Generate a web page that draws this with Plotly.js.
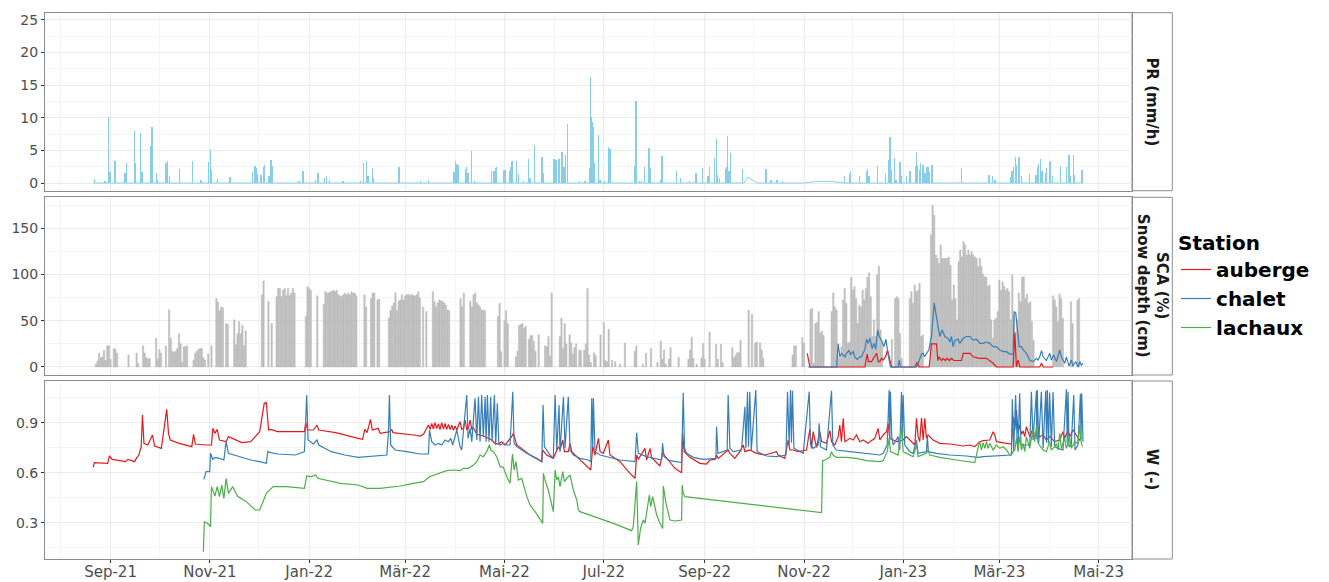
<!DOCTYPE html>
<html><head><meta charset="utf-8">
<script src="https://cdn.plot.ly/plotly-3.0.1.min.js"></script>
<style>html,body{margin:0;padding:0;background:#fff}#chart{width:1329px;height:582px}</style>
</head><body><div id="chart"></div>
<script>
// All time values: days since 2021-09-01 (UTC)
const prEvents = [[-10.0,0.6],[-3.4,0.3],[-1.2,10.1],[-0.4,1.7],[2.7,3.3],[8.8,1.6],[9.6,3.0],[14.6,7.9],[15.3,3.0],[18.2,7.6],[19.3,1.7],[24.6,5.6],[25.4,8.6],[28.1,1.5],[28.9,0.5],[34.0,3.1],[34.8,3.3],[36.0,1.0],[42.4,2.1],[50.2,3.4],[55.5,0.4],[60.0,3.2],[61.4,5.0],[62.0,2.0],[65.7,0.6],[73.3,0.9],[87.4,1.7],[88.7,2.6],[89.5,2.3],[90.3,1.4],[91.9,1.3],[92.7,1.3],[94.2,2.4],[94.5,2.8],[97.4,1.0],[98.5,3.5],[99.3,2.6],[115.7,0.3],[118.3,1.8],[126.1,0.5],[127.5,1.5],[131.6,0.7],[132.6,1.0],[134.7,0.5],[142.7,0.3],[153.7,0.3],[155.3,3.1],[157.4,3.3],[158.2,1.1],[160.7,2.3],[161.3,0.7],[177.2,2.4],[190.6,0.3],[195.1,0.5],[211.0,1.7],[211.8,3.3],[212.7,2.9],[213.5,2.8],[218.0,2.1],[218.8,2.4],[219.6,1.5],[221.6,4.9],[223.7,0.3],[234.2,1.9],[235.6,1.9],[236.4,2.3],[237.2,2.4],[241.7,2.0],[242.5,2.0],[245.0,1.8],[245.8,2.4],[246.6,3.3],[249.5,3.4],[250.7,1.4],[253.6,0.3],[256.6,3.6],[257.7,0.8],[260.6,5.8],[264.6,2.8],[265.0,4.0],[265.8,1.5],[272.4,3.7],[273.6,3.5],[275.5,3.7],[277.3,4.8],[278.6,2.4],[279.3,4.3],[280.6,9.1],[287.9,0.3],[291.4,0.3],[294.1,2.3],[294.9,16.2],[295.6,10.1],[296.2,9.4],[296.5,8.5],[297.2,3.0],[299.6,7.3],[300.7,0.5],[303.3,0.3],[306.0,5.5],[306.8,5.2],[321.9,2.6],[322.8,12.6],[324.8,0.3],[326.0,0.3],[328.1,2.5],[330.7,5.3],[331.5,2.3],[337.9,0.5],[338.7,4.1],[347.7,1.8],[350.2,0.8],[355.7,0.3],[359.6,1.5],[363.5,2.3],[367.0,1.0],[367.8,2.4],[370.8,3.8],[372.1,6.7],[372.9,1.3],[373.9,0.7],[378.0,2.1],[378.4,2.5],[379.1,7.2],[379.9,1.8],[380.9,4.6],[388.3,2.1],[402.6,2.1],[405.8,0.4],[409.5,0.5],[413.0,0.3],[450.9,1.0],[454.0,1.4],[454.6,1.8],[460.1,1.0],[464.2,1.8],[465.0,2.1],[466.0,1.0],[471.1,2.6],[476.2,1.4],[477.9,3.5],[478.5,5.4],[478.9,7.1],[479.5,2.0],[481.8,3.8],[482.6,0.5],[485.0,3.2],[485.6,1.0],[489.1,1.0],[491.2,1.8],[494.7,2.6],[495.1,4.8],[495.9,2.7],[496.9,2.0],[497.7,3.0],[499.1,2.8],[500.4,1.6],[501.2,2.5],[502.2,2.5],[503.1,1.7],[504.7,2.8],[522.9,2.3],[539.7,1.2],[541.8,1.0],[543.3,0.5],[552.8,0.9],[553.8,1.9],[554.8,2.4],[556.1,4.0],[556.7,2.7],[558.1,4.0],[559.6,1.0],[564.5,1.4],[568.5,1.2],[569.4,2.5],[570.2,2.9],[571.4,3.6],[572.2,1.8],[574.3,1.5],[575.1,2.3],[576.7,3.2],[577.5,3.4],[578.6,1.0],[583.5,2.6],[587.2,2.5],[588.8,4.3],[589.8,1.0],[591.5,4.3],[592.1,1.3],[596.8,2.0]];
const prBase = [[-10.6,0],[389.0,0],[391.5,0.9],[397.2,0],[425.8,0],[432.0,0.2],[438.0,0.26],[444.0,0.2],[450.3,0],[597.4,0]];

const snowRunStart = ['2021-08-23','2021-09-12','2021-09-17','2021-09-21','2021-09-29','2021-10-05','2021-10-22','2021-11-05','2021-11-16','2021-12-03','2021-12-12','2021-12-30','2022-01-06','2022-01-10','2022-02-04','2022-02-08','2022-02-19','2022-03-12','2022-03-18','2022-04-04','2022-04-10','2022-04-27','2022-05-08','2022-05-26','2022-06-04','2022-06-25','2022-07-20','2022-08-03','2022-08-16','2022-08-22','2022-09-08','2022-09-18','2022-09-28','2022-10-25','2022-11-05','2022-11-18','2022-11-25','2022-12-25','2023-01-05','2023-01-18','2023-04-03','2023-04-14','2023-04-18'];
const snowRunDepth = [
 [3,6.5,15,10,11,18,7,23,23,8,0,20,19,15],
 [13],
 [15,4],
 [23,15,10,9,9],
 [31,9,19,15],
 [23,0,62,31,17,16,17,20,36,25,5,22,22,23],
 [7.5,15,17,19,20,20,10,7.5,0,14,0,23],
 [74,70,61,65,64,0,47,46],
 [51,24,36,49,36,45,23,39],
 [78,93,0,0,71,0,47],
 [76,85,85,76,83,85,77,85,77,80,85,80],
 [55,87,85,83],
 [77],
 [68,81.5,80,80,81.5,82,83,81.5,83,78,77,76,78,80,78,80,78,81.5,80,80,77],
 [78,65],
 [74,80,80,0,72.5,73.5],
 [53,61,66,69,80,61,71,72.5,78,72.5,77,78,78.6,77,78.6,77,77,78,81.5,75],
 [64.5,0,60],
 [81.5,70.6,65,69.5,72.5,71.7,70.6,69.5,67,61.6,61],
 [74,65,80],
 [71,65,78,80,69.5,67,65,62,61,61],
 [55,69,16.6,0,50,61,47],
 [11,17,45,46,47,42,44,0,30,34,34,28,17,0,35],
 [23,22,33,12,80],
 [33,53,20,47,25,0,35,26,14,21,25,0,18,18,0,18,25,85,13,5],
 [15.5,12.6,0,0,34.6,0,48,7,5.8,40.7,0,7.5,0,5.8,0,0,3,0,0,26],
 [17,22.7,0,0,0,3,0,14.8,0,0,20],
 [5,0,28,8.3,18.4,3,0,8.7,21],
 [10.5],
 [8.3,18.4,32,9.4,0,3,0,0,9.7,25.6,8.3,0,0,37.8],
 [24.5,8.3,0,24.5,4.7],
 [21,10,12.6,15.5,15.5,29],
 [61.6,0,57,0,26,27,0,26,18.4,9.4],
 [13,22.7,23,0,0,0,31.7,25.6],
 [62,63.4,4,47,48,60,36.4,39,34],
 [60,80,65,61.6,11,9.4,22],
 [72.5,85,69,25.6,27,97,83,87,74,47,67,64.5,83,72.5,85,97,102,76,33,51,33,99.5,109,40,27],
 [30,0,74,76,74,36.4,9.4],
 [74,81.5,69,88.7,81.5,83,90.5,33,34.6],
 [143,175,164,121,117.5,112,132,117.5,117.5,117.5,117.5,119,110,72.5,88.7,74,51,114,126.5,119,135.5,132,121,126.5,121,124.7,121,119,117.5,108.5,117.5,109,100.6,97.7,97,87,88.7,51,31,51,52.6,60,94,83,92,87,83,85,81.5,51,99.5,56,38,51,80,70.6,97,97.7,74,79,69,70.6,49,29],
 [77,72.5,65,49,79,74,52.6],
 [70.6,47],
 [72.5,74]
];

const scaAuberge = [[428.0,14.8],[429.6,0],[463.4,0],[464.8,14],[465.6,5.8],[467.5,5.8],[470.6,14.8],[471.6,5.8],[472.6,5.8],[473.6,9.4],[474.7,7.5],[476.3,12],[477.3,18.4],[478.7,7.5],[479.8,0],[494.1,0],[495.5,5],[496.7,0],[502.9,0],[504.3,25],[507.4,25],[508.2,7],[509.0,11],[510.5,7],[511.5,9.4],[512.9,7],[513.9,9.4],[515.2,7],[516.6,9.4],[518.0,7],[522.7,7],[523.8,14.8],[527.9,14.8],[529.9,11],[534.0,9.4],[538.1,9.4],[542.2,4],[544.2,0],[554.5,0],[555.5,36.4],[556.5,0],[557.5,7.5],[558.6,0],[570.8,0],[571.9,4],[572.9,0],[579.0,0]];
const scaChalet = [[428.6,0],[446.0,0],[447.0,25],[448.0,11],[449.1,14.8],[450.1,13],[451.1,11],[452.1,14.8],[453.6,17.7],[454.6,13.7],[456.2,16.6],[457.2,11],[458.7,8.3],[460.3,11],[461.3,11],[463.4,19],[464.4,30],[465.4,25.6],[466.5,31],[467.9,20],[469.1,25.6],[470.1,19],[471.2,40],[472.2,33],[473.6,29],[475.1,22],[476.3,30],[477.7,13],[479.1,0],[483.9,0],[484.5,7.5],[485.3,0],[495.1,0],[496.1,4],[497.2,9.4],[498.2,14],[499.2,14.8],[500.2,11],[501.3,14.8],[502.7,18.4],[504.3,33],[505.3,54],[506.0,69.5],[507.0,58],[508.4,43.6],[509.4,33],[510.9,40],[512.5,33],[514.6,31],[515.6,27],[516.6,33],[517.6,22],[518.7,29],[520.7,30],[521.7,25.6],[523.8,31],[525.8,33],[527.9,33],[529.9,29],[532.0,30],[534.0,25.6],[536.0,25.6],[538.1,27],[540.1,25.6],[542.2,22],[544.2,22],[546.3,18.4],[548.3,16.6],[550.4,16.6],[552.4,14],[554.5,14],[555.1,60],[556.1,58],[557.1,36.4],[558.2,22],[559.6,22],[560.6,18.4],[562.7,14.8],[564.7,7],[566.7,5.8],[568.8,9.4],[569.8,7.5],[570.8,11],[571.9,17.7],[572.9,11],[574.9,7],[577.0,14.8],[578.0,7.5],[579.4,13],[581.1,5.8],[583.1,18.4],[584.1,11],[585.2,7],[586.2,4],[587.2,11],[588.8,1],[590.3,7.5],[591.3,1],[592.9,5.8],[594.4,0],[595.4,5.8],[596.4,2],[597.4,4]];

const wAuberge = [[-10.6,0.632],[-10.0,0.66],[-1.8,0.656],[-0.7,0.70],[1.0,0.68],[9.2,0.666],[10.6,0.68],[14.7,0.666],[16.1,0.69],[17.4,0.706],[18.8,0.756],[19.6,0.946],[20.5,0.776],[22.9,0.766],[25.7,0.826],[27.1,0.76],[31.2,0.746],[34.5,0.98],[35.6,0.836],[36.7,0.796],[42.2,0.776],[49.9,0.756],[51.0,0.83],[52.1,0.772],[58.7,0.766],[62.0,0.766],[62.8,0.866],[64.1,0.836],[65.5,0.86],[66.9,0.796],[71.0,0.786],[72.4,0.816],[80.6,0.78],[86.1,0.786],[88.9,0.816],[91.6,0.846],[94.4,1.016],[95.7,1.02],[97.1,0.856],[98.5,0.86],[102.6,0.846],[119.1,0.846],[119.9,0.90],[121.0,0.856],[124.6,0.856],[126.8,0.886],[127.9,0.856],[138.3,0.84],[152.1,0.806],[154.8,0.80],[156.2,0.86],[157.6,0.84],[159.7,0.92],[160.8,0.856],[164.4,0.866],[165.6,0.836],[171.7,0.846],[172.8,0.86],[173.5,0.84],[177.9,0.836],[186.1,0.826],[190.2,0.82],[192.2,0.83],[195.3,0.886],[196.3,0.86],[197.3,0.895],[198.3,0.862],[199.3,0.9],[200.3,0.865],[201.4,0.892],[202.4,0.858],[203.4,0.9],[204.5,0.862],[205.5,0.895],[206.5,0.86],[207.6,0.89],[208.6,0.858],[209.6,0.885],[210.6,0.855],[211.6,0.88],[212.7,0.856],[214.7,0.906],[215.7,0.86],[216.8,0.866],[217.8,0.916],[218.8,0.86],[219.8,0.866],[220.9,0.916],[221.9,0.86],[222.9,0.87],[225.0,0.83],[229.0,0.82],[234.2,0.796],[236.2,0.776],[238.3,0.772],[240.3,0.786],[242.3,0.766],[246.4,0.816],[247.5,0.836],[249.5,0.766],[253.6,0.736],[257.7,0.706],[261.8,0.686],[264.9,0.666],[265.5,0.736],[267.9,0.706],[272.0,0.686],[275.1,0.756],[276.1,0.736],[277.8,0.796],[278.8,0.726],[281.2,0.726],[282.3,0.776],[283.3,0.726],[286.4,0.696],[290.4,0.656],[293.5,0.626],[295.0,0.616],[296.2,0.756],[297.6,0.706],[299.7,0.806],[300.7,0.726],[302.7,0.716],[305.8,0.796],[306.8,0.706],[313.0,0.666],[319.1,0.596],[322.2,0.566],[323.2,0.706],[324.2,0.68],[328.3,0.746],[329.3,0.676],[331.4,0.746],[332.4,0.69],[337.5,0.64],[339.2,0.72],[340.6,0.7],[343.7,0.66],[346.7,0.626],[350.8,0.60],[351.4,0.836],[352.4,0.726],[355.9,0.692],[362.0,0.656],[366.1,0.652],[368.2,0.676],[371.3,0.68],[372.3,0.706],[373.3,0.686],[379.4,0.736],[380.5,0.716],[383.5,0.686],[386.6,0.726],[388.7,0.766],[389.7,0.726],[392.7,0.736],[396.8,0.716],[402.0,0.706],[409.1,0.726],[410.1,0.706],[414.2,0.686],[416.3,0.796],[417.3,0.736],[419.4,0.736],[422.4,0.726],[427.5,0.736],[429.6,0.86],[430.6,0.746],[431.6,0.846],[433.7,0.752],[435.7,0.846],[436.8,0.786],[439.8,0.776],[441.9,0.852],[442.9,0.786],[444.9,0.766],[447.0,0.816],[448.0,0.886],[449.0,0.786],[450.1,0.926],[451.1,0.786],[454.2,0.806],[456.2,0.796],[458.2,0.826],[460.3,0.786],[462.3,0.796],[465.4,0.776],[466.4,0.786],[469.5,0.806],[471.5,0.866],[472.6,0.796],[474.6,0.826],[476.7,0.846],[477.7,0.896],[478.7,0.806],[482.8,0.786],[486.9,0.796],[488.9,0.816],[491.0,0.796],[494.1,0.766],[495.1,0.926],[496.1,0.816],[497.1,0.786],[498.2,0.93],[499.2,0.796],[500.2,0.926],[501.2,0.806],[502.2,0.826],[503.3,0.816],[505.3,0.796],[509.4,0.776],[515.6,0.772],[523.7,0.76],[527.8,0.766],[530.9,0.756],[534.0,0.786],[536.0,0.792],[540.1,0.796],[542.2,0.846],[543.2,0.826],[544.2,0.786],[553.4,0.772],[554.4,0.936],[555.5,0.856],[556.5,0.976],[557.5,0.836],[558.5,0.886],[559.6,0.83],[560.6,0.85],[561.6,0.816],[562.6,0.876],[564.7,0.816],[566.7,0.866],[567.7,0.81],[568.8,0.846],[570.8,0.816],[572.9,0.826],[574.9,0.796],[577.0,0.816],[580.0,0.786],[583.1,0.796],[585.1,0.846],[586.1,0.806],[588.2,0.856],[589.2,0.816],[591.3,0.856],[593.3,0.826],[595.4,0.796],[596.4,0.806]];
const wChalet = [[57.3,0.56],[58.7,0.606],[60.9,0.606],[61.4,0.716],[62.8,0.68],[64.1,0.692],[66.9,0.686],[69.6,0.676],[71.0,0.786],[72.4,0.716],[77.9,0.70],[86.1,0.676],[91.6,0.666],[95.7,0.656],[96.6,0.726],[98.5,0.72],[102.6,0.712],[113.6,0.706],[119.1,0.726],[120.5,1.066],[121.3,0.796],[124.6,0.772],[126.8,0.796],[127.9,0.766],[135.6,0.726],[143.8,0.706],[152.1,0.692],[160.3,0.70],[165.6,0.706],[169.7,0.706],[170.7,0.836],[171.3,1.066],[172.1,0.766],[174.8,0.736],[182.0,0.726],[190.2,0.712],[195.3,0.712],[195.9,0.856],[197.3,0.786],[199.4,0.766],[201.4,0.776],[203.5,0.766],[205.5,0.796],[207.6,0.786],[209.0,0.806],[210.2,0.766],[212.7,0.856],[214.7,0.756],[215.7,0.736],[218.8,1.066],[219.6,0.806],[220.9,0.866],[221.9,0.786],[223.9,1.046],[225.0,0.796],[226.0,1.056],[227.0,0.786],[228.0,1.066],[229.0,0.816],[230.1,1.056],[230.7,0.786],[231.5,1.066],[232.5,0.786],[233.5,1.056],[234.4,0.786],[235.8,1.066],[236.6,0.766],[237.6,1.016],[238.5,0.776],[239.3,0.766],[241.3,0.776],[243.4,0.766],[245.4,0.766],[247.1,1.086],[247.9,0.776],[249.5,0.756],[255.7,0.716],[261.8,0.686],[264.9,0.666],[265.7,1.006],[266.5,0.756],[270.0,0.706],[272.0,0.686],[273.1,1.066],[274.1,0.736],[275.5,1.006],[276.1,0.726],[278.2,1.056],[279.2,0.746],[281.2,1.056],[282.3,0.736],[284.3,0.706],[288.4,0.686],[293.5,0.676],[295.0,0.666],[295.6,1.046],[296.2,0.75],[296.6,1.046],[297.6,0.726],[300.7,0.706],[304.8,0.696],[313.0,0.676],[322.2,0.666],[323.2,0.84],[324.2,0.716],[329.3,0.696],[338.5,0.676],[339.1,0.776],[340.0,0.696],[343.6,0.672],[350.8,0.66],[351.2,0.856],[351.8,1.08],[352.6,0.746],[353.9,0.716],[358.0,0.692],[364.1,0.68],[371.9,0.686],[372.3,0.876],[373.1,0.716],[378.8,0.736],[379.4,1.066],[380.5,0.746],[382.5,0.726],[387.6,0.736],[389.7,0.996],[390.3,0.746],[391.3,1.086],[391.9,0.756],[392.7,1.086],[393.6,0.736],[396.4,1.096],[397.2,0.726],[403.0,0.70],[409.1,0.696],[414.9,0.706],[415.9,1.086],[416.9,0.766],[417.7,1.096],[418.3,0.78],[418.9,1.092],[419.8,0.746],[425.5,0.716],[429.2,1.086],[430.0,0.766],[431.6,0.746],[434.7,0.766],[435.3,0.896],[436.1,0.756],[439.8,0.736],[442.9,1.092],[443.7,0.766],[445.9,0.736],[454.2,0.726],[464.4,0.716],[472.6,0.706],[474.6,0.716],[477.1,0.766],[478.3,1.096],[478.7,0.8],[479.1,1.086],[479.9,0.816],[480.8,0.766],[483.8,0.816],[484.8,0.736],[485.9,1.086],[486.4,0.8],[486.9,1.066],[487.9,0.766],[491.0,0.726],[493.0,0.716],[495.1,0.796],[496.1,0.716],[501.2,0.726],[501.8,0.816],[502.4,0.726],[507.4,0.716],[515.6,0.706],[525.8,0.70],[532.9,0.692],[536.0,0.696],[544.2,0.70],[553.4,0.706],[554.0,1.04],[554.8,0.726],[556.0,1.066],[556.9,0.796],[557.5,0.756],[558.5,1.076],[559.3,0.766],[562.6,0.766],[564.7,0.766],[565.7,1.086],[566.7,0.796],[568.8,1.092],[569.0,0.8],[569.3,1.096],[570.2,0.776],[571.8,1.086],[572.9,0.746],[574.5,1.092],[575.0,0.78],[575.5,1.096],[576.2,0.78],[576.9,1.08],[578.0,0.756],[579.0,1.086],[580.0,0.756],[582.1,0.746],[585.1,0.736],[587.2,1.1],[587.7,0.78],[588.2,1.086],[588.8,0.756],[590.2,0.766],[591.7,1.066],[592.5,0.736],[594.3,0.766],[595.8,1.072],[596.2,0.8],[596.6,1.076],[597.4,0.786]];
const wLachaux = [[57.0,0.126],[57.6,0.306],[60.0,0.292],[61.4,0.276],[62.0,0.516],[64.1,0.46],[65.5,0.516],[66.9,0.456],[68.3,0.526],[69.6,0.446],[71.0,0.566],[72.4,0.476],[75.1,0.516],[77.9,0.46],[83.4,0.426],[88.9,0.376],[91.6,0.376],[95.7,0.476],[99.9,0.516],[108.1,0.516],[119.1,0.506],[120.5,0.58],[123.2,0.576],[125.9,0.586],[127.3,0.566],[141.1,0.536],[152.1,0.526],[157.6,0.506],[165.6,0.506],[171.7,0.512],[177.9,0.52],[186.1,0.536],[192.2,0.546],[195.9,0.576],[200.4,0.592],[206.5,0.612],[210.6,0.616],[214.7,0.612],[216.8,0.626],[219.8,0.626],[222.9,0.646],[225.0,0.666],[227.0,0.706],[229.0,0.696],[231.1,0.726],[232.7,0.766],[233.5,0.736],[235.2,0.726],[237.2,0.696],[239.3,0.636],[241.3,0.632],[243.4,0.576],[245.4,0.536],[246.9,0.712],[247.9,0.616],[249.1,0.666],[250.5,0.556],[252.6,0.566],[255.7,0.456],[257.7,0.406],[260.8,0.366],[263.8,0.326],[265.5,0.296],[265.9,0.596],[266.9,0.556],[268.9,0.496],[271.0,0.406],[272.0,0.366],[273.1,0.616],[274.1,0.556],[275.1,0.576],[276.1,0.516],[277.8,0.606],[278.8,0.546],[280.2,0.566],[282.3,0.586],[284.3,0.496],[286.4,0.436],[287.4,0.376],[288.4,0.366],[308.9,0.296],[320.1,0.252],[321.1,0.276],[323.2,0.546],[324.2,0.166],[325.6,0.266],[327.3,0.316],[328.3,0.296],[331.0,0.466],[331.8,0.396],[333.0,0.456],[335.5,0.346],[337.5,0.296],[339.2,0.266],[339.6,0.52],[341.2,0.416],[343.7,0.316],[346.7,0.31],[350.8,0.316],[351.2,0.526],[351.8,0.476],[352.8,0.456],[436.8,0.36],[437.4,0.672],[438.8,0.676],[441.9,0.692],[442.9,0.726],[443.9,0.706],[445.9,0.692],[452.1,0.692],[458.2,0.686],[464.4,0.672],[472.6,0.666],[474.6,0.672],[477.1,0.726],[478.3,0.806],[479.1,0.726],[483.8,0.706],[485.9,0.876],[486.9,0.726],[489.0,0.716],[493.0,0.696],[495.1,0.766],[496.1,0.696],[501.2,0.716],[502.2,0.736],[503.3,0.706],[509.4,0.692],[519.6,0.676],[530.9,0.66],[533.0,0.752],[534.0,0.786],[535.0,0.736],[536.0,0.78],[537.1,0.746],[538.1,0.786],[539.1,0.746],[540.1,0.776],[542.2,0.736],[544.2,0.766],[546.3,0.746],[548.3,0.756],[550.4,0.736],[552.4,0.706],[553.4,0.706],[554.4,0.726],[555.5,0.736],[556.5,0.806],[557.5,0.726],[558.5,0.816],[559.6,0.736],[560.6,0.776],[561.6,0.726],[562.6,0.816],[564.7,0.746],[566.7,0.866],[567.7,0.786],[568.8,0.876],[569.8,0.776],[572.9,0.736],[574.9,0.726],[576.9,0.786],[577.9,0.736],[580.0,0.756],[581.1,0.776],[582.1,0.736],[583.1,0.836],[584.1,0.746],[586.1,0.806],[587.2,0.746],[589.2,0.816],[590.2,0.746],[592.3,0.786],[594.3,0.776],[595.4,0.886],[596.0,0.796],[597.0,0.756]];

const stations = ['auberge','chalet','lachaux'];
const stationColors = ['#E41A1C','#377EB8','#4DAF4A'];
const tickDates = ['2021-09-01','2021-11-01','2022-01-01','2022-03-01','2022-05-01','2022-07-01','2022-09-01','2022-11-01','2023-01-01','2023-03-01','2023-05-01'];
const tickLabels = ['Sep-21','Nov-21','Jan-22','Mär-22','Mai-22','Jul-22','Sep-22','Nov-22','Jan-23','Mär-23','Mai-23'];
const minorDates = ['2021-08-01','2021-10-01','2021-12-01','2022-02-01','2022-04-01','2022-06-01','2022-08-01','2022-10-01','2022-12-01','2023-02-01','2023-04-01'];
const stripLabels = ['PR (mm/h)','SCA (%)<br>Snow depth (cm)','W (-)'];

// ---------- build ----------
const BASE = Date.UTC(2021, 8, 1);
const DAY = 86400000;
const toDate = d => new Date(BASE + d * DAY).toISOString().slice(0, 19).replace('T', ' ');
const xs = arr => arr.map(p => toDate(p[0]));
const ys = arr => arr.map(p => p[1]);

const snowX = [], snowY = [];
snowRunStart.forEach((s, k) => {
  const d0 = (Date.parse(s + 'T00:00:00Z') - BASE) / DAY;
  snowRunDepth[k].forEach((v, i) => { if (v > 0) { snowX.push(toDate(d0 + i)); snowY.push(v); } });
});

const prColor = '#87ceeb';
const data = [
  {type:'scatter', mode:'lines', x:xs(prBase), y:ys(prBase), xaxis:'x', yaxis:'y', line:{color:prColor, width:1}, showlegend:false, hoverinfo:'skip'},
  {type:'bar', x:xs(prEvents), y:ys(prEvents), width:0.8*DAY, xaxis:'x', yaxis:'y', marker:{color:prColor, line:{width:0}}, showlegend:false},
  {type:'bar', x:snowX, y:snowY, width:0.8*DAY, xaxis:'x2', yaxis:'y2', marker:{color:'#c4c4c4', line:{color:'#a8a8a8', width:0.4}}, showlegend:false}
];
[wAuberge, wChalet, wLachaux].forEach((w, i) => {
  data.push({type:'scatter', mode:'lines', name:stations[i], x:xs(w), y:ys(w), xaxis:'x3', yaxis:'y3', line:{color:stationColors[i], width:1.2}, legendgroup:stations[i], showlegend:true});
});
data.push({type:'scatter', mode:'lines', name:stations[0], x:xs(scaAuberge), y:ys(scaAuberge), xaxis:'x2', yaxis:'y2', line:{color:stationColors[0], width:1.2}, legendgroup:stations[0], showlegend:false});
data.push({type:'scatter', mode:'lines', name:stations[1], x:xs(scaChalet), y:ys(scaChalet), xaxis:'x2', yaxis:'y2', line:{color:stationColors[1], width:1.2}, legendgroup:stations[1], showlegend:false});

const FONT = 'DejaVu Sans, sans-serif';
const border = '#8c8c8c';
const grid = '#ebebeb';
const minorGrid = '#f4f4f4';
const xRange = [toDate(-40.28), toDate(627.5)];
function xAxis(anchor, showLabels) {
  return {type:'date', anchor:anchor, range:xRange, tickmode:'array', tickvals:tickDates, ticktext:tickLabels,
    showticklabels:showLabels, ticks:showLabels ? 'outside' : '', ticklen:3, tickcolor:'#333', tickwidth:1,
    ticklabelstandoff:-4,
    tickfont:{family:FONT, size:15, color:'#4d4d4d'},
    showgrid:true, gridcolor:grid, gridwidth:1,
    minor:{tickmode:'array', tickvals:minorDates, showgrid:true, gridcolor:minorGrid, gridwidth:1},
    showline:true, mirror:true, linecolor:border, linewidth:1, zeroline:false, fixedrange:true};
}
function yAxis(domain, range, tickvals, minorStep) {
  return {domain:domain, range:range, tickmode:'array', tickvals:tickvals, ticks:'outside', ticklen:3, tickcolor:'#333', tickwidth:1,
    tickfont:{family:FONT, size:14, color:'#4d4d4d'},
    showgrid:true, gridcolor:grid, gridwidth:1,
    minor:{dtick:minorStep, tick0:0, showgrid:true, gridcolor:minorGrid, gridwidth:1},
    showline:true, mirror:true, linecolor:border, linewidth:1, zeroline:false, fixedrange:true};
}
const d1 = [0.6733, 0.9987], d2 = [0.3364, 0.6612], d3 = [0, 0.3254];
const layout = {
  width:1329, height:582,
  margin:{l:45, r:197, t:12, b:23},
  paper_bgcolor:'#fff', plot_bgcolor:'#fff',
  font:{family:FONT, color:'#1a1a1a'},
  barmode:'overlay', bargap:0,
  xaxis:Object.assign(xAxis('y', false), {domain:[0,1]}),
  xaxis2:Object.assign(xAxis('y2', false), {domain:[0,1], matches:'x'}),
  xaxis3:Object.assign(xAxis('y3', true), {domain:[0,1], matches:'x'}),
  yaxis:yAxis(d1, [-1.18, 26.07], [0,5,10,15,20,25], 2.5),
  yaxis2:yAxis(d2, [-8.65, 183.5], [0,50,100,150], 25),
  yaxis3:yAxis(d3, [0.082, 1.15], [0.3,0.6,0.9], 0.15),
  showlegend:true,
  legend:{x:1.0405, xanchor:'left', y:0.5, yanchor:'middle', bgcolor:'rgba(0,0,0,0)',
    font:{family:FONT, size:20, color:'#000', weight:'bold'},
    title:{text:'Station', font:{family:FONT, size:20, color:'#000', weight:'bold'}},
    itemwidth:30, tracegroupgap:0},
  shapes:[d1, d2, d3].map(d => ({type:'rect', xref:'paper', yref:'paper', x0:1.0, x1:1.0371, y0:d[0], y1:d[1], line:{color:border, width:1}, fillcolor:'#fff', layer:'below'})),
  annotations:[d1, d2, d3].map((d, i) => ({xref:'paper', yref:'paper', x:1.0187, y:(d[0]+d[1])/2, text:stripLabels[i], textangle:90, showarrow:false,
    font:{family:FONT, size:15, color:'#1a1a1a', weight:'bold'}, xanchor:'center', yanchor:'middle'})),
  hovermode:false
};
Plotly.newPlot('chart', data, layout, {staticPlot:true, displayModeBar:false});
</script>
</body></html>
